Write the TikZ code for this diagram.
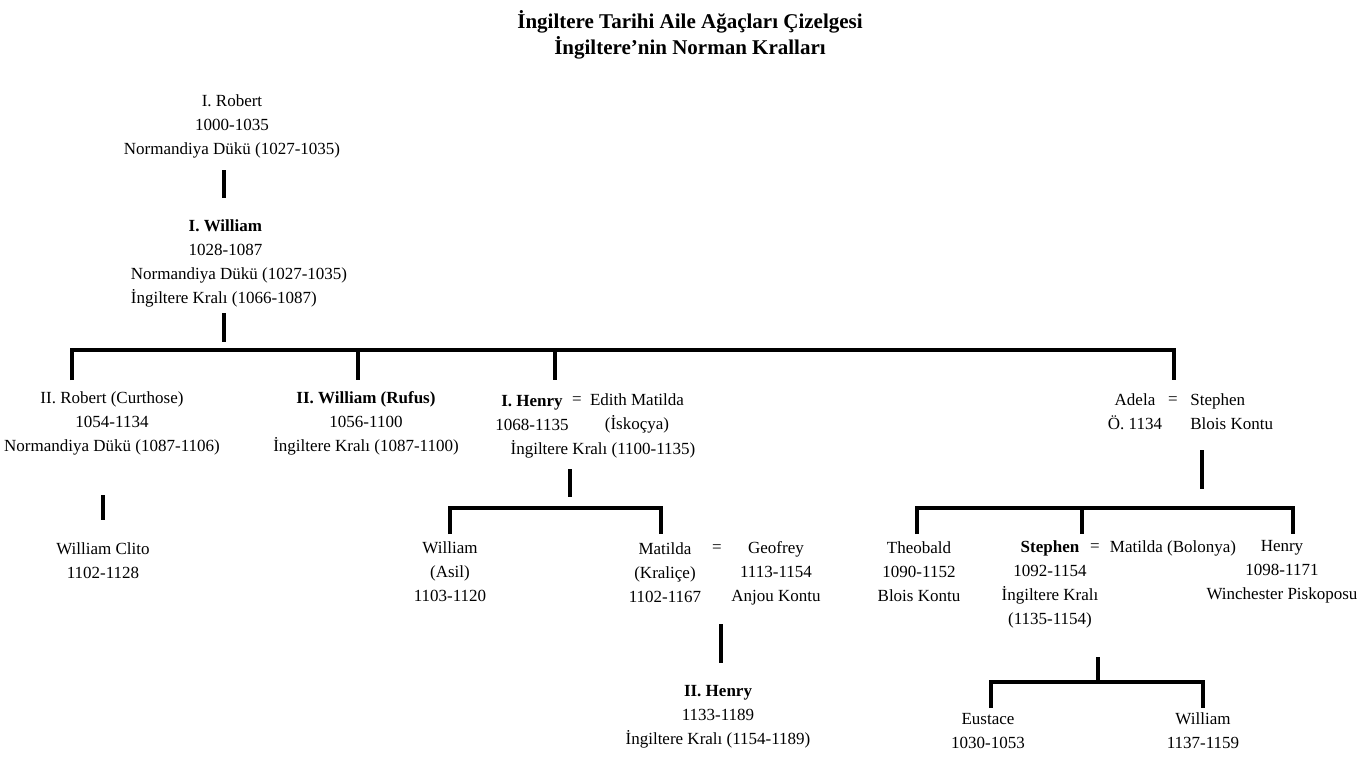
\documentclass[tikz,border=0pt]{standalone}
\usepackage{fontspec}
\setmainfont{Liberation Serif}
\begin{document}
\begin{tikzpicture}[x=0.5pt,y=-0.5pt,
  every node/.style={font=\fontsize{8.5}{12}\selectfont, align=center, inner sep=0pt, text=black},
  person/.style={},
  eqsign/.style={},
  title/.style={font=\fontsize{10.5}{13}\selectfont\bfseries},
  bar/.style={line width=2.4pt, line cap=butt},
  stub/.style={line width=2.2pt}]
\useasboundingbox (0,0) rectangle (1362,760);
\fill[white] (0,0) rectangle (1362,760);

% title
\node[title] (title) at (690,35) {İngiltere Tarihi Aile Ağaçları Çizelgesi\\İngiltere’nin Norman Kralları};

% generation 1
\node[person] (robert1) at (232,126) {I. Robert\\1000-1035\\Normandiya Dükü (1027-1035)};
\node[person, align=left] (william1) at (239,263) {\hspace*{3.4em}\textbf{I. William}\\\hspace*{3.4em}1028-1087\\Normandiya Dükü (1027-1035)\\İngiltere Kralı (1066-1087)};
\coordinate (s1a) at (224,170);
\coordinate (s1b) at (224,198);
\draw[stub] (s1a) -- (s1b);
\coordinate (s2a) at (224,313);
\coordinate (s2b) at (224,342);
\draw[stub] (s2a) -- (s2b);

% main bar
\coordinate (m1) at (72,380);
\coordinate (m1t) at (72,350);
\coordinate (m4t) at (1174,350);
\coordinate (m4) at (1174,380);
\coordinate (m2t) at (358,350);
\coordinate (m2) at (358,380);
\coordinate (m3t) at (555,350);
\coordinate (m3) at (555,380);
\draw[bar] (m1) -- (m1t) -- (m4t) -- (m4);
\draw[bar] (m2t) -- (m2);
\draw[bar] (m3t) -- (m3);

% generation 2
\node[person] (robert2) at (112,423) {II. Robert (Curthose)\\1054-1134\\Normandiya Dükü (1087-1106)};
\node[person] (rufus) at (366,423) {\textbf{II. William (Rufus)}\\1056-1100\\İngiltere Kralı (1087-1100)};
\node[person] (henry1) at (532,413) {\textbf{I. Henry}\\1068-1135};
\node[eqsign] (eq1) at (577,401) {=};
\node[person] (edith) at (637,413) {Edith Matilda\\(İskoçya)};
\node[person] (henry1k) at (603,449) {İngiltere Kralı (1100-1135)};
\node[person] (adela) at (1135,412) {Adela\\Ö. 1134};
\node[eqsign] (eq2) at (1173,401) {=};
\node[person, align=left, anchor=west] (stephenB) at (1190,412) {Stephen\\Blois Kontu};

% Robert II -> Clito
\coordinate (s3a) at (103,495);
\coordinate (s3b) at (103,520);
\draw[stub] (s3a) -- (s3b);
\node[person] (clito) at (103,561) {William Clito\\1102-1128};

% Henry I children
\coordinate (s4a) at (570,469);
\coordinate (s4b) at (570,497);
\draw[stub] (s4a) -- (s4b);
\coordinate (h1) at (450,534);
\coordinate (h1t) at (450,508);
\coordinate (h2t) at (661,508);
\coordinate (h2) at (661,534);
\draw[bar] (h1) -- (h1t) -- (h2t) -- (h2);
\node[person] (asil) at (450,572) {William\\(Asil)\\1103-1120};
\node[person] (matilda) at (665,573) {Matilda\\(Kraliçe)\\1102-1167};
\node[eqsign] (eq3) at (717,549) {=};
\node[person] (geofrey) at (776,573) {Geofrey\\1113-1154\\Anjou Kontu};
\coordinate (s5a) at (721,624);
\coordinate (s5b) at (721,663);
\draw[stub] (s5a) -- (s5b);
\node[person] (henry2) at (718,717) {\textbf{II. Henry}\\1133-1189\\İngiltere Kralı (1154-1189)};

% Adela children
\coordinate (s6a) at (1202,450);
\coordinate (s6b) at (1202,489);
\draw[stub] (s6a) -- (s6b);
\coordinate (a1) at (917,534);
\coordinate (a1t) at (917,508);
\coordinate (a3t) at (1293,508);
\coordinate (a3) at (1293,534);
\coordinate (a2t) at (1082,508);
\coordinate (a2) at (1082,534);
\draw[bar] (a1) -- (a1t) -- (a3t) -- (a3);
\draw[bar] (a2t) -- (a2);
\node[person] (theobald) at (919,572) {Theobald\\1090-1152\\Blois Kontu};
\node[person] (stephen) at (1050,584) {\textbf{Stephen}\\1092-1154\\İngiltere Kralı\\(1135-1154)};
\node[eqsign] (eq4) at (1095,548) {=};
\node[person] (matildaB) at (1173,548) {Matilda (Bolonya)};
\node[person] (henryW) at (1282,572) {Henry\\1098-1171\\Winchester Piskoposu};

% Stephen children
\coordinate (s7a) at (1098,657);
\coordinate (s7b) at (1098,681);
\draw[stub] (s7a) -- (s7b);
\coordinate (e1) at (991,708);
\coordinate (e1t) at (991,682);
\coordinate (e2t) at (1203,682);
\coordinate (e2) at (1203,708);
\draw[bar] (e1) -- (e1t) -- (e2t) -- (e2);
\node[person] (eustace) at (988,731) {Eustace\\1030-1053};
\node[person] (william3) at (1203,731) {William\\1137-1159};
\end{tikzpicture}
\end{document}
